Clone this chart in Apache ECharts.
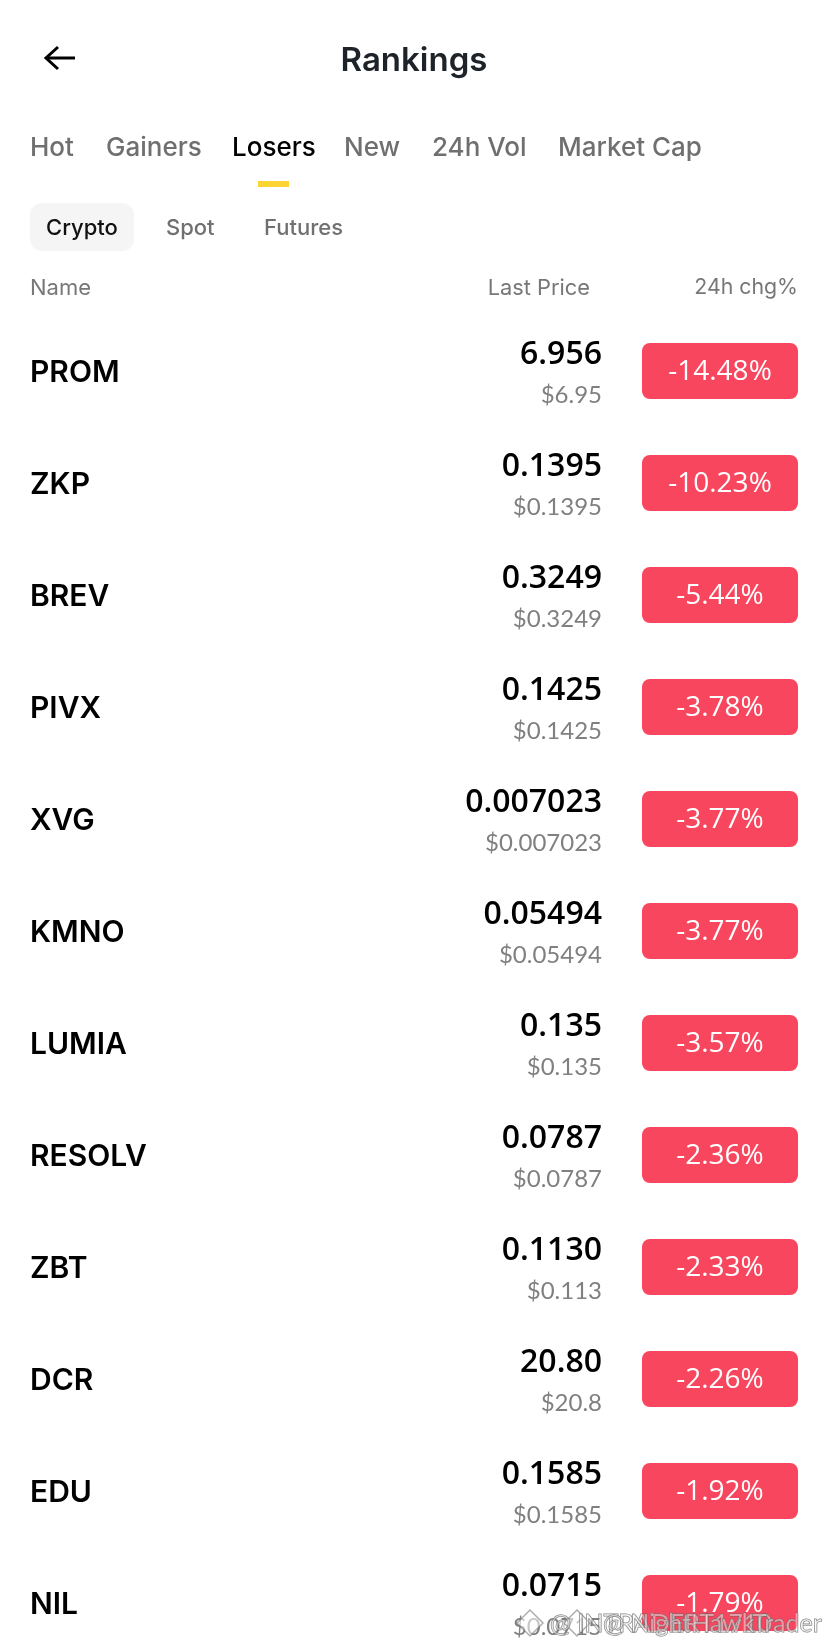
<!DOCTYPE html>
<html><head><meta charset="utf-8">
<style>html,body{margin:0;padding:0;background:#fff}#c{width:828px;height:1650px}</style>
<script src="https://cdn.jsdelivr.net/npm/echarts@6/dist/echarts.min.js"></script>
</head><body><div id="c"></div>
<script>
const names=['PROM','ZKP','BREV','PIVX','XVG','KMNO','LUMIA','RESOLV','ZBT','DCR','EDU','NIL'];
const lastPrices=['6.956','0.1395','0.3249','0.1425','0.007023','0.05494','0.135','0.0787','0.1130','20.80','0.1585','0.0715'];
const usdPrices=['$6.95','$0.1395','$0.3249','$0.1425','$0.007023','$0.05494','$0.135','$0.0787','$0.113','$20.8','$0.1585','$0.0715'];
const changes=[-14.48,-10.23,-5.44,-3.78,-3.77,-3.77,-3.57,-2.36,-2.33,-2.26,-1.92,-1.79];
const tabs=['Hot','Gainers','Losers','New','24h Vol','Market Cap'];
const subTabs=['Crypto','Spot','Futures'];
const columns=['Name','Last Price','24h chg%'];
const FONT='Inter, "Noto Sans", sans-serif';
const NUM='"Open Sans", "Noto Sans", sans-serif';
const SUB='Lato, "Noto Sans", sans-serif';
const chart=echarts.init(document.getElementById('c'),null,{renderer:'canvas'});
const txt=(x,y,t,size,w,color,align)=>({type:'text',x,y,silent:true,style:{text:t,font:`${w} ${size}px ${FONT}`,fill:color,align:align||'left',verticalAlign:'middle'}});
const ghost=(x,y,t,size)=>({type:'text',x,y,silent:true,style:{text:t,font:`400 ${size}px ${SUB}`,fill:'rgba(255,255,255,.45)',stroke:'rgba(100,100,100,.8)',lineWidth:1,align:'left',verticalAlign:'middle'}});
const tabX=[30,106,232,344,432,558];
const subX=[82,166,264];
const diamond=(cx,cy)=>({type:'polygon',shape:{points:[[cx-13,cy],[cx,cy-13],[cx+13,cy],[cx,cy+13]]},style:{fill:'rgba(255,255,255,.55)',stroke:'rgba(120,120,120,.6)',lineWidth:1.5}});
const g=[
 {type:'polyline',shape:{points:[[75,58],[46,58]]},style:{stroke:'#000',lineWidth:3,fill:null}},
 {type:'polyline',shape:{points:[[58,47],[46,58],[58,69]]},style:{stroke:'#000',lineWidth:3,fill:null}},
 txt(414,61,'Rankings',33,600,'#1e2329','center'),
 ...tabs.map((t,i)=>txt(tabX[i],148,t,26,500,i===2?'#000':'#6f6f6f')),
 {type:'rect',shape:{x:258,y:181,width:31,height:6},style:{fill:'#fcd535'}},
 {type:'rect',shape:{x:30,y:203,width:104,height:48,r:12},style:{fill:'#f5f5f5'}},
 ...subTabs.map((t,i)=>txt(subX[i],228,t,22,500,i===0?'#111':'#707070',i===0?'center':'left')),
 txt(30,288,columns[0],22,400,'#777'),
 txt(590,288,columns[1],21.8,400,'#777','right'),
 txt(798,288,columns[2],21.3,400,'#777','right')
];
const overlay=[
 diamond(530,1623),diamond(577,1623),
 ghost(550,1624,'@ INTRADERT1710',25),
 ghost(603,1624,'@ NightHawkTrader',25)
];
chart.setOption({
 animation:false,
 backgroundColor:'#fff',
 grid:{left:0,right:0,top:315,height:1344,outerBoundsMode:'none'},
 xAxis:{type:'value',min:-20,max:0,show:false},
 yAxis:{type:'category',inverse:true,data:names,axisLine:{show:false},axisTick:{show:false},splitLine:{show:false},
   position:'left',axisLabel:{inside:true,margin:30,align:'left',formatter:'{n|{value}}',
     rich:{n:{color:'#000',fontFamily:FONT,fontWeight:600,fontSize:30,padding:[4,0,0,0]}}}},
 graphic:{elements:g.concat(overlay.map(o=>({...o,z:100})))},
 series:[{type:'custom',clip:false,coordinateSystem:'cartesian2d',encode:{x:0,y:1},
   data:changes.map((v,i)=>[v,i]),
   renderItem(p,api){
     const i=api.value(1), y=api.coord([0,i])[1];
     return {type:'group',children:[
       {type:'text',style:{x:602,y:y-16,text:lastPrices[i],font:`600 32px ${NUM}`,fill:'#000',align:'right',verticalAlign:'middle'}},
       {type:'text',style:{x:602,y:y+24,text:usdPrices[i],font:`400 24px ${SUB}`,fill:'#808080',align:'right',verticalAlign:'middle'}},
       {type:'rect',shape:{x:642,y:y-28,width:156,height:56,r:8},style:{fill:'#f9465f'}},
       {type:'text',style:{x:720,y:y+1,text:api.value(0).toFixed(2)+'%',font:`500 28px ${NUM}`,fill:'#fff',align:'center',verticalAlign:'middle'}}
     ]};
   }}]
});
</script></body></html>
